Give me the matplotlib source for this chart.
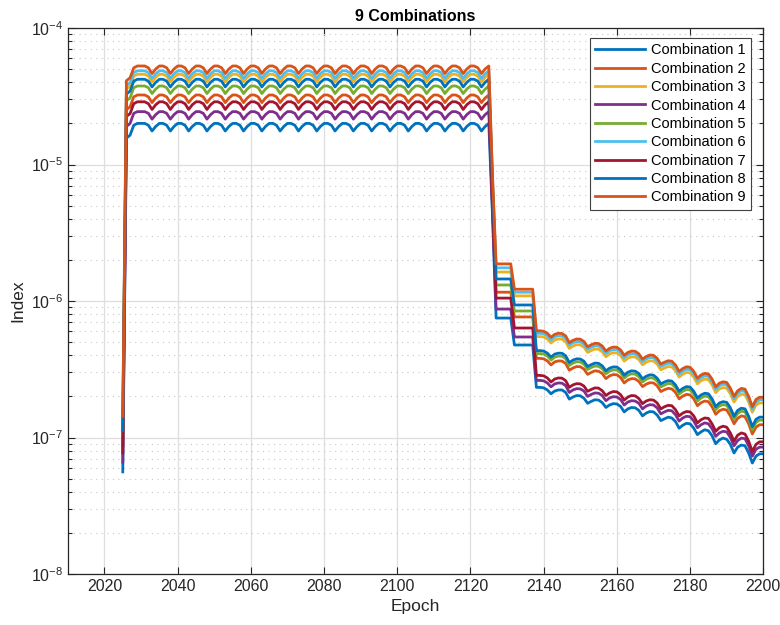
import matplotlib

matplotlib.use("Agg")

import matplotlib.pyplot as plt
from matplotlib.ticker import LogLocator, NullLocator, MultipleLocator

plt.rcParams['font.family'] = ['Liberation Sans', 'DejaVu Sans']

# index values are stored in units of 1e-9
UNIT = 1e-9

epochs = list(range(2025, 2201))

comb1 = [
    56, 15600, 16400, 19400, 20000, 20000, 20000, 19400, 17600,
    19000, 20000, 20000, 19400, 17600, 19000, 20000, 20000, 19400, 17600,
    19000, 20000, 20000, 19400, 17600, 19000, 20000, 20000, 19400, 17600,
    19000, 20000, 20000, 19400, 17600, 19000, 20000, 20000, 19400, 17600,
    19000, 20000, 20000, 19400, 17600, 19000, 20000, 20000, 19400, 17600,
    19000, 20000, 20000, 19400, 17600, 19000, 20000, 20000, 19400, 17600,
    19000, 20000, 20000, 19400, 17600, 19000, 20000, 20000, 19400, 17600,
    19000, 20000, 20000, 19400, 17600, 19000, 20000, 20000, 19400, 17600,
    19000, 20000, 20000, 19400, 17600, 19000, 20000, 20000, 19400, 17600,
    19000, 20000, 20000, 19400, 17600, 19000, 20000, 20000, 19400, 17600,
    19000, 20000,
    4300, 750, 750, 750, 750, 750, 476, 476, 476, 476, 476, 476,
    233, 233, 231, 223, 209, 219, 223, 223, 214, 191,
    198, 203, 202, 194, 178, 184, 189, 188, 180, 166,
    173, 177, 176, 169, 154, 162, 166, 165, 158, 144,
    151, 155, 154, 146, 133, 137, 141, 139, 131, 117,
    123, 127, 126, 117, 105, 110, 114, 112, 103, 90,
    96, 99, 97, 89, 77, 85, 88, 87, 77, 65,
    73, 76, 76,
]

comb2 = [
    88, 25200, 26500, 31300, 32300, 32300, 32300, 31300, 28400,
    30700, 32300, 32300, 31300, 28400, 30700, 32300, 32300, 31300, 28400,
    30700, 32300, 32300, 31300, 28400, 30700, 32300, 32300, 31300, 28400,
    30700, 32300, 32300, 31300, 28400, 30700, 32300, 32300, 31300, 28400,
    30700, 32300, 32300, 31300, 28400, 30700, 32300, 32300, 31300, 28400,
    30700, 32300, 32300, 31300, 28400, 30700, 32300, 32300, 31300, 28400,
    30700, 32300, 32300, 31300, 28400, 30700, 32300, 32300, 31300, 28400,
    30700, 32300, 32300, 31300, 28400, 30700, 32300, 32300, 31300, 28400,
    30700, 32300, 32300, 31300, 28400, 30700, 32300, 32300, 31300, 28400,
    30700, 32300, 32300, 31300, 28400, 30700, 32300, 32300, 31300, 28400,
    30700, 32300,
    5800, 1160, 1160, 1160, 1160, 1160, 764, 764, 764, 764, 764, 764,
    380, 380, 377, 364, 340, 358, 364, 363, 349, 311,
    323, 331, 330, 317, 290, 300, 308, 306, 294, 270,
    283, 289, 288, 275, 251, 264, 270, 269, 257, 236,
    246, 252, 251, 239, 217, 224, 229, 227, 214, 192,
    201, 207, 205, 192, 171, 180, 185, 183, 168, 148,
    157, 161, 159, 144, 126, 138, 144, 142, 126, 106,
    119, 124, 124,
]

comb3 = [
    124, 35700, 37600, 44400, 45800, 45800, 45800, 44400, 40300,
    43500, 45800, 45800, 44400, 40300, 43500, 45800, 45800, 44400, 40300,
    43500, 45800, 45800, 44400, 40300, 43500, 45800, 45800, 44400, 40300,
    43500, 45800, 45800, 44400, 40300, 43500, 45800, 45800, 44400, 40300,
    43500, 45800, 45800, 44400, 40300, 43500, 45800, 45800, 44400, 40300,
    43500, 45800, 45800, 44400, 40300, 43500, 45800, 45800, 44400, 40300,
    43500, 45800, 45800, 44400, 40300, 43500, 45800, 45800, 44400, 40300,
    43500, 45800, 45800, 44400, 40300, 43500, 45800, 45800, 44400, 40300,
    43500, 45800, 45800, 44400, 40300, 43500, 45800, 45800, 44400, 40300,
    43500, 45800, 45800, 44400, 40300, 43500, 45800, 45800, 44400, 40300,
    43500, 45800,
    7500, 1630, 1630, 1630, 1630, 1630, 1090, 1090, 1090, 1090, 1090, 1090,
    549, 549, 545, 527, 492, 518, 527, 525, 504, 449,
    468, 479, 477, 459, 420, 434, 445, 443, 425, 390,
    409, 418, 416, 398, 363, 381, 390, 389, 372, 341,
    356, 365, 363, 345, 313, 323, 331, 329, 309, 277,
    291, 300, 297, 277, 247, 261, 268, 265, 243, 213,
    227, 232, 230, 209, 182, 200, 208, 205, 182, 153,
    173, 179, 179,
]

comb4 = [
    66, 19000, 20000, 23700, 24400, 24400, 24400, 23700, 21500,
    23200, 24400, 24400, 23700, 21500, 23200, 24400, 24400, 23700, 21500,
    23200, 24400, 24400, 23700, 21500, 23200, 24400, 24400, 23700, 21500,
    23200, 24400, 24400, 23700, 21500, 23200, 24400, 24400, 23700, 21500,
    23200, 24400, 24400, 23700, 21500, 23200, 24400, 24400, 23700, 21500,
    23200, 24400, 24400, 23700, 21500, 23200, 24400, 24400, 23700, 21500,
    23200, 24400, 24400, 23700, 21500, 23200, 24400, 24400, 23700, 21500,
    23200, 24400, 24400, 23700, 21500, 23200, 24400, 24400, 23700, 21500,
    23200, 24400, 24400, 23700, 21500, 23200, 24400, 24400, 23700, 21500,
    23200, 24400, 24400, 23700, 21500, 23200, 24400, 24400, 23700, 21500,
    23200, 24400,
    4800, 873, 873, 873, 873, 873, 545, 545, 545, 545, 545, 545,
    262, 262, 260, 251, 235, 247, 251, 250, 240, 214,
    223, 228, 227, 219, 200, 207, 212, 211, 203, 186,
    195, 199, 198, 190, 173, 182, 186, 185, 178, 162,
    170, 174, 173, 165, 149, 154, 158, 157, 147, 132,
    139, 143, 142, 132, 118, 124, 128, 126, 116, 102,
    108, 111, 110, 100, 87, 95, 99, 98, 87, 73,
    82, 85, 85,
]

comb5 = [
    102, 29300, 30800, 36500, 37600, 37600, 37600, 36500, 33100,
    35700, 37600, 37600, 36500, 33100, 35700, 37600, 37600, 36500, 33100,
    35700, 37600, 37600, 36500, 33100, 35700, 37600, 37600, 36500, 33100,
    35700, 37600, 37600, 36500, 33100, 35700, 37600, 37600, 36500, 33100,
    35700, 37600, 37600, 36500, 33100, 35700, 37600, 37600, 36500, 33100,
    35700, 37600, 37600, 36500, 33100, 35700, 37600, 37600, 36500, 33100,
    35700, 37600, 37600, 36500, 33100, 35700, 37600, 37600, 36500, 33100,
    35700, 37600, 37600, 36500, 33100, 35700, 37600, 37600, 36500, 33100,
    35700, 37600, 37600, 36500, 33100, 35700, 37600, 37600, 36500, 33100,
    35700, 37600, 37600, 36500, 33100, 35700, 37600, 37600, 36500, 33100,
    35700, 37600,
    6400, 1310, 1310, 1310, 1310, 1310, 845, 845, 845, 845, 845, 845,
    412, 412, 409, 395, 369, 388, 395, 394, 378, 337,
    351, 359, 358, 344, 315, 326, 334, 332, 319, 293,
    306, 313, 312, 298, 272, 286, 293, 291, 279, 255,
    267, 274, 272, 259, 235, 242, 249, 247, 232, 208,
    218, 225, 223, 208, 185, 195, 201, 199, 183, 160,
    170, 174, 172, 157, 136, 150, 156, 154, 136, 114,
    129, 134, 134,
]

comb6 = [
    132, 37900, 39900, 47100, 48600, 48600, 48600, 47100, 42800,
    46200, 48600, 48600, 47100, 42800, 46200, 48600, 48600, 47100, 42800,
    46200, 48600, 48600, 47100, 42800, 46200, 48600, 48600, 47100, 42800,
    46200, 48600, 48600, 47100, 42800, 46200, 48600, 48600, 47100, 42800,
    46200, 48600, 48600, 47100, 42800, 46200, 48600, 48600, 47100, 42800,
    46200, 48600, 48600, 47100, 42800, 46200, 48600, 48600, 47100, 42800,
    46200, 48600, 48600, 47100, 42800, 46200, 48600, 48600, 47100, 42800,
    46200, 48600, 48600, 47100, 42800, 46200, 48600, 48600, 47100, 42800,
    46200, 48600, 48600, 47100, 42800, 46200, 48600, 48600, 47100, 42800,
    46200, 48600, 48600, 47100, 42800, 46200, 48600, 48600, 47100, 42800,
    46200, 48600,
    8000, 1750, 1750, 1750, 1750, 1750, 1160, 1160, 1160, 1160, 1160, 1160,
    580, 580, 575, 556, 520, 547, 556, 554, 532, 475,
    494, 505, 503, 484, 443, 458, 470, 468, 449, 412,
    432, 441, 439, 420, 384, 403, 412, 410, 393, 360,
    376, 386, 384, 364, 331, 341, 350, 347, 326, 292,
    307, 316, 314, 292, 261, 275, 283, 280, 257, 225,
    240, 246, 243, 221, 192, 211, 220, 217, 192, 161,
    182, 189, 189,
]

comb7 = [
    77, 22500, 23600, 27900, 28800, 28800, 28800, 27900, 25300,
    27400, 28800, 28800, 27900, 25300, 27400, 28800, 28800, 27900, 25300,
    27400, 28800, 28800, 27900, 25300, 27400, 28800, 28800, 27900, 25300,
    27400, 28800, 28800, 27900, 25300, 27400, 28800, 28800, 27900, 25300,
    27400, 28800, 28800, 27900, 25300, 27400, 28800, 28800, 27900, 25300,
    27400, 28800, 28800, 27900, 25300, 27400, 28800, 28800, 27900, 25300,
    27400, 28800, 28800, 27900, 25300, 27400, 28800, 28800, 27900, 25300,
    27400, 28800, 28800, 27900, 25300, 27400, 28800, 28800, 27900, 25300,
    27400, 28800, 28800, 27900, 25300, 27400, 28800, 28800, 27900, 25300,
    27400, 28800, 28800, 27900, 25300, 27400, 28800, 28800, 27900, 25300,
    27400, 28800,
    5300, 1050, 1050, 1050, 1050, 1050, 634, 634, 634, 634, 634, 634,
    285, 285, 283, 273, 255, 268, 273, 272, 261, 233,
    243, 248, 247, 238, 218, 225, 231, 230, 220, 203,
    212, 217, 216, 206, 188, 198, 203, 202, 193, 177,
    185, 189, 188, 179, 162, 168, 172, 171, 160, 144,
    151, 155, 154, 144, 128, 135, 139, 138, 126, 111,
    118, 121, 119, 108, 94, 104, 108, 106, 94, 79,
    89, 93, 93,
]

comb8 = [
    112, 32800, 34500, 40800, 42100, 42100, 42100, 40800, 37000,
    40000, 42100, 42100, 40800, 37000, 40000, 42100, 42100, 40800, 37000,
    40000, 42100, 42100, 40800, 37000, 40000, 42100, 42100, 40800, 37000,
    40000, 42100, 42100, 40800, 37000, 40000, 42100, 42100, 40800, 37000,
    40000, 42100, 42100, 40800, 37000, 40000, 42100, 42100, 40800, 37000,
    40000, 42100, 42100, 40800, 37000, 40000, 42100, 42100, 40800, 37000,
    40000, 42100, 42100, 40800, 37000, 40000, 42100, 42100, 40800, 37000,
    40000, 42100, 42100, 40800, 37000, 40000, 42100, 42100, 40800, 37000,
    40000, 42100, 42100, 40800, 37000, 40000, 42100, 42100, 40800, 37000,
    40000, 42100, 42100, 40800, 37000, 40000, 42100, 42100, 40800, 37000,
    40000, 42100,
    7000, 1450, 1450, 1450, 1450, 1450, 935, 935, 935, 935, 935, 935,
    433, 433, 430, 415, 388, 408, 415, 414, 397, 354,
    369, 377, 376, 362, 331, 342, 351, 349, 335, 308,
    322, 329, 328, 314, 286, 301, 308, 306, 294, 269,
    281, 288, 286, 272, 247, 255, 261, 259, 243, 218,
    229, 236, 234, 218, 195, 205, 211, 209, 192, 168,
    179, 183, 181, 165, 143, 158, 164, 162, 143, 120,
    136, 141, 141,
]

comb9 = [
    143, 41100, 43200, 51100, 52700, 52700, 52700, 51100, 46400,
    50100, 52700, 52700, 51100, 46400, 50100, 52700, 52700, 51100, 46400,
    50100, 52700, 52700, 51100, 46400, 50100, 52700, 52700, 51100, 46400,
    50100, 52700, 52700, 51100, 46400, 50100, 52700, 52700, 51100, 46400,
    50100, 52700, 52700, 51100, 46400, 50100, 52700, 52700, 51100, 46400,
    50100, 52700, 52700, 51100, 46400, 50100, 52700, 52700, 51100, 46400,
    50100, 52700, 52700, 51100, 46400, 50100, 52700, 52700, 51100, 46400,
    50100, 52700, 52700, 51100, 46400, 50100, 52700, 52700, 51100, 46400,
    50100, 52700, 52700, 51100, 46400, 50100, 52700, 52700, 51100, 46400,
    50100, 52700, 52700, 51100, 46400, 50100, 52700, 52700, 51100, 46400,
    50100, 52700,
    8500, 1870, 1870, 1870, 1870, 1870, 1220, 1220, 1220, 1220, 1220, 1220,
    605, 605, 600, 580, 542, 570, 580, 578, 555, 495,
    515, 527, 525, 505, 462, 478, 490, 488, 468, 430,
    450, 460, 458, 438, 400, 420, 430, 428, 410, 375,
    392, 402, 400, 380, 345, 356, 365, 362, 340, 305,
    320, 330, 327, 305, 272, 287, 295, 292, 268, 235,
    250, 256, 253, 230, 200, 220, 229, 226, 200, 168,
    190, 197, 197,
]

series = [comb1, comb2, comb3, comb4, comb5, comb6, comb7, comb8, comb9]
labels = ["Combination %d" % (i + 1) for i in range(9)]

# MATLAB default line colour order
colors = ["#0072BD", "#D95319", "#EDB120", "#7E2F8E", "#77AC30",
          "#4DBEEE", "#A2142F", "#0072BD", "#D95319"]

fig = plt.figure(figsize=(7.8, 6.25), dpi=100)
ax = fig.add_axes([0.087, 0.0816, 0.8916, 0.8736])

for vals, lab, col in zip(series, labels, colors):
    ax.plot(epochs, [v * UNIT for v in vals], color=col, linewidth=2, label=lab)

ax.set_yscale("log")
ax.set_xlim(2010, 2200)
ax.set_ylim(1e-8, 1e-4)

ax.xaxis.set_major_locator(MultipleLocator(20))
ax.xaxis.set_minor_locator(NullLocator())
ax.yaxis.set_major_locator(LogLocator(base=10))
ax.yaxis.set_minor_locator(LogLocator(base=10, subs=range(2, 10)))

ax.set_axisbelow(True)
ax.grid(True, which="major", color="#dedede", linewidth=0.9)
ax.grid(True, which="minor", axis="y", color="#c8c8c8", linewidth=0.8,
        linestyle=(0, (1, 4)))

ax.tick_params(which="both", direction="in", top=True, right=True,
               colors="#262626", labelsize=11.5)
ax.tick_params(which="major", length=5, width=0.8)
ax.tick_params(which="minor", length=3, width=0.8)
for s in ax.spines.values():
    s.set_color("#262626")
    s.set_linewidth(0.9)

ax.set_xlabel("Epoch", fontsize=12.5, color="#262626", labelpad=4)
ax.set_ylabel("Index", fontsize=12.5, color="#262626", labelpad=4)
ax.set_title("9 Combinations", fontsize=11.5, fontweight="bold", pad=5)

leg = ax.legend(loc="upper right", bbox_to_anchor=(0.982, 0.981),
                fontsize=10.5, handlelength=3.45, handletextpad=0.4,
                labelspacing=0.3, borderpad=0.35, borderaxespad=0,
                fancybox=False, framealpha=1, edgecolor="#404040")
leg.get_frame().set_linewidth(0.8)

plt.savefig("out.png", dpi=100)
plt.close()
